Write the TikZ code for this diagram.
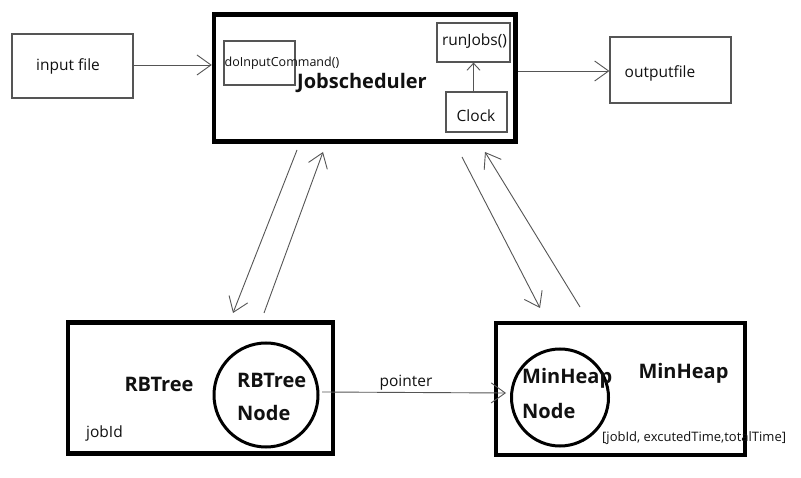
\documentclass[tikz,border=0pt]{standalone}
\usepackage{fontspec}
\setmainfont{Open Sans}
\usetikzlibrary{arrows.meta}
\definecolor{lineg}{HTML}{555555}
\definecolor{txt}{HTML}{111111}
\begin{document}
\begin{tikzpicture}[x=1pt,y=-1pt,
  thinbox/.style={draw=lineg,line width=1.2pt,inner sep=0pt},
  thickbox/.style={draw=black,line width=4.5pt,inner sep=0pt},
  ring/.style={draw=black,line width=3pt,circle,inner sep=0pt},
  conn/.style={draw=lineg,line width=0.9pt,-{Straight Barb[length=14pt,width=20pt,line width=0.9pt]}},
  sconn/.style={draw=lineg,line width=0.9pt,-{Straight Barb[length=7pt,width=13pt,line width=0.9pt]}},
  lbl/.style={font=\fontsize{15.5}{18}\selectfont,text=txt,inner sep=0pt},
  big/.style={font=\bfseries\fontsize{20}{22}\selectfont,text=txt,inner sep=0pt},
  small/.style={font=\fontsize{12.5}{14}\selectfont,text=txt,inner sep=0pt},
  fields/.style={font=\fontsize{13}{15}\selectfont,text=txt,inner sep=0pt}]
\useasboundingbox (0,0) rectangle (801,478);
\fill[white] (0,0) rectangle (801,478);

% top row
\node[thinbox,minimum width=121pt,minimum height=64pt] (in) at (72.5,66) {};
\node[lbl] (intxt) at (68,66) {input file};

\node[thickbox,minimum width=301.5pt,minimum height=127pt] (js) at (364.75,78) {};
\node[thinbox,minimum width=71pt,minimum height=44pt] (dic) at (259.5,63) {};
\node[small,anchor=west] (dictxt) at (224.5,63) {doInputCommand()};
\node[big] (jstxt) at (362,83) {Jobscheduler};
\node[thinbox,minimum width=73pt,minimum height=39pt] (rj) at (473.5,42.5) {};
\node[lbl] (rjtxt) at (474.5,41) {runJobs()};
\node[thinbox,minimum width=61pt,minimum height=40pt] (clk) at (476.5,112) {};
\node[lbl] (clktxt) at (476,116) {Clock};

\node[thinbox,minimum width=121pt,minimum height=66pt] (out) at (670.5,70) {};
\node[lbl] (outtxt) at (660,73) {outputfile};

% bottom row
\node[thickbox,minimum width=265pt,minimum height=130.5pt] (rb) at (200.5,388) {};
\node[big] (rbtxt) at (159,384) {RBTree};
\node[lbl,anchor=west] (jid) at (86,433) {jobId};
\node[ring,minimum size=104pt] (rbc) at (266,395) {};
\node[big,anchor=west] (rbc1) at (237,380) {RBTree};
\node[big,anchor=west] (rbc2) at (237,413) {Node};

\node[thickbox,minimum width=249pt,minimum height=132pt] (mh) at (620.5,389) {};
\node[big] (mhtxt) at (683.5,373) {MinHeap};
\node[fields,anchor=west] (mhf) at (602,438) {[jobId, excutedTime,totalTime]};
\node[ring,minimum size=97pt] (mhc) at (560,397.5) {};
\node[big,anchor=west] (mhc1) at (522,378) {MinHeap};
\node[big,anchor=west] (mhc2) at (522,411) {Node};

% connector end points
\coordinate (a1s) at (297,150);
\coordinate (a1e) at (233,313);
\coordinate (a2s) at (264,313);
\coordinate (a2e) at (323,152);
\coordinate (a3s) at (462,157);
\coordinate (a3e) at (540,308);
\coordinate (a4s) at (580,307);
\coordinate (a4e) at (485,152);
\coordinate (ps) at (322,392);
\coordinate (pe) at (506,393);

% connectors
\draw[conn] (in.east |- 0,65) -- (js.west |- 0,65);
\draw[conn] (js.east |- 0,71) -- (out.west |- 0,71);
\draw[sconn] (clk.north -| rj.south) -- (rj.south);
\draw[conn] (a1s) -- (a1e);
\draw[conn] (a2s) -- (a2e);
\draw[conn] (a3s) -- (a3e);
\draw[conn] (a4s) -- (a4e);
\draw[conn] (ps) -- (pe);
\node[lbl] (ptr) at (406,383) {pointer};
\end{tikzpicture}
\end{document}
